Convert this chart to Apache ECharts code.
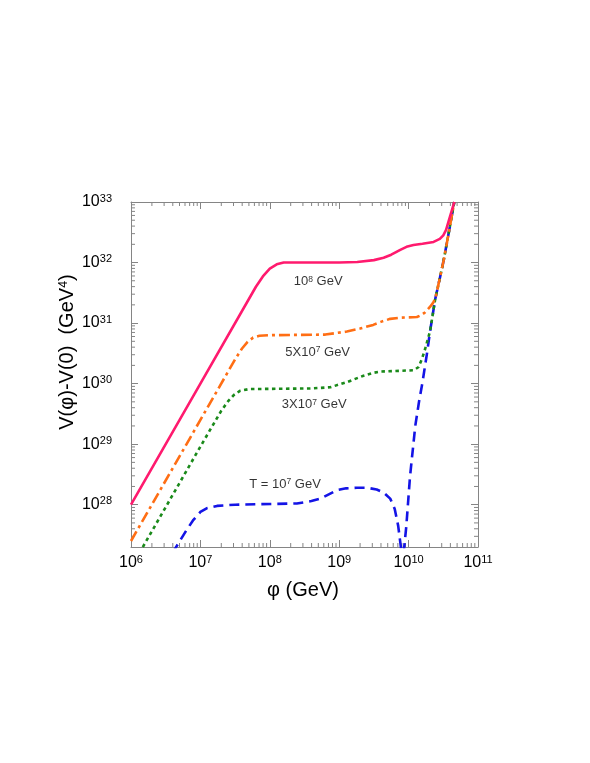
<!DOCTYPE html>
<html><head><meta charset="utf-8">
<script src="https://cdn.jsdelivr.net/npm/echarts@6/dist/echarts.min.js"></script>
<style>html,body{margin:0;padding:0;background:#fff}#c{width:590px;height:763px}</style>
</head><body><div id="c"></div>
<script>
// ---- data: [log10 φ/GeV, log10 (V(φ)-V(0))/GeV^4] ----
const seriesNames = ['T = 10^7 GeV', '3X10^7 GeV', '5X10^7 GeV', '10^8 GeV'];

const blueT1e7Log = [
  [6.6, 27.2], [6.649, 27.3], [6.8, 27.58], [6.9, 27.75], [7.0, 27.88], [7.09, 27.94], [7.24, 27.98],
  [7.5, 28.0], [8.39, 28.02], [8.6, 28.06], [8.73, 28.1], [8.85, 28.17], [8.97, 28.24], [9.1, 28.27],
  [9.255, 28.28], [9.4, 28.28], [9.54, 28.25], [9.64, 28.2], [9.735, 28.1], [9.8, 27.93], [9.85, 27.65],
  [9.9, 27.2], null,
  [9.93, 27.2], [9.937, 27.3], [9.966, 27.63], [10.02, 28.46], [10.096, 29.3], [10.15, 29.7],
  [10.2, 30.02], [10.265, 30.5], [10.31, 30.87], [10.384, 31.4], [10.45, 31.74], [10.504, 32.03],
  [10.58, 32.5], [10.658, 33.0]
];
const greenT3e7Log = [
  [6.12, 27.2], [7.0, 28.96], [7.3, 29.55], [7.4, 29.71], [7.48, 29.81], [7.57, 29.88], [7.7, 29.91],
  [8.6, 29.92], [8.87, 29.94], [9.1, 30.02], [9.35, 30.13], [9.5, 30.18], [9.6, 30.2], [10.07, 30.22],
  [10.14, 30.27], [10.19, 30.4], [10.24, 30.58], [10.31, 30.87], [10.384, 31.4], [10.45, 31.74],
  [10.504, 32.03], [10.58, 32.5], [10.658, 33.0]
];
const orangeT5e7Log = [
  [6.0, 27.4], [7.0, 29.4], [7.5, 30.4], [7.6, 30.58], [7.68, 30.69], [7.76, 30.76], [7.85, 30.79],
  [8.0, 30.8], [8.8, 30.81], [9.11, 30.86], [9.3, 30.91], [9.49, 30.97], [9.6, 31.02], [9.735, 31.07],
  [9.9, 31.09], [10.12, 31.1], [10.18, 31.13], [10.24, 31.18], [10.31, 31.27], [10.35, 31.33],
  [10.384, 31.4], [10.45, 31.74], [10.504, 32.03], [10.58, 32.5], [10.658, 33.0]
];
const pinkT1e8Log = [
  [6.0, 28.0], [7.0, 30.0], [7.8, 31.6], [7.9, 31.77], [8.0, 31.9], [8.1, 31.97], [8.2, 32.0],
  [9.0, 32.0], [9.26, 32.01], [9.5, 32.04], [9.64, 32.08], [9.75, 32.13], [9.88, 32.21], [9.97, 32.26],
  [10.07, 32.29], [10.2, 32.31], [10.36, 32.34], [10.45, 32.39], [10.5, 32.45], [10.54, 32.54],
  [10.576, 32.68], [10.62, 32.85], [10.658, 33.0]
];

// curve annotations: text and anchor (exponents of data coordinates)
const annoTexts = ['10{s|8} GeV', '5X10{s|7} GeV', '3X10{s|7} GeV', 'T = 10{s|7} GeV'];
const annoAnchorsLog = [[8.697, 31.69], [8.69, 30.52], [8.64, 29.66], [8.22, 28.34]];

// axes
const xMin = 1e6, xMax = 1e11;
const yMin = 2e27, yMax = 1e33;
const xTitle = 'φ (GeV)';
const yTitle = 'V(φ)-V(0)  (GeV{s|4})';

// ---- rendering ----
const FONT = '"Liberation Sans", Arial, Helvetica, sans-serif';
const AX = '#858585';
const toValues = arr => arr.map(p => p === null ? null : [Math.pow(10, p[0]), Math.pow(10, p[1])]);

function minorValues(lo, hi) {
  const out = [];
  for (let n = Math.floor(Math.log10(lo)); n <= Math.ceil(Math.log10(hi)); n++) {
    for (let k = 2; k <= 9; k++) {
      const v = k * Math.pow(10, n);
      if (v > lo * 1.0001 && v < hi * 0.9999) out.push(v);
    }
  }
  return out;
}
const xMinor = minorValues(xMin, xMax);
const yMinor = minorValues(yMin, yMax);

function powLabel(v) {
  const e = Math.log10(v), r = Math.round(e);
  if (Math.abs(e - r) > 1e-6) return '';
  return '{b|10}{s|' + r + '}';
}
const labelRich = {
  b: { fontSize: 16, fontFamily: FONT, color: '#000', lineHeight: 18 },
  s: { fontSize: 11, fontFamily: FONT, color: '#000', verticalAlign: 'top', lineHeight: 9 }
};

function baseAxis(pos, showLabel) {
  return {
    type: 'log', logBase: 10, position: pos,
    axisLine: { show: true, onZero: false, lineStyle: { color: AX, width: 1 } },
    axisTick: { show: true, inside: true, length: 7, lineStyle: { color: AX, width: 1 } },
    minorTick: { show: false },
    splitLine: { show: false },
    axisLabel: showLabel ? { show: true, formatter: powLabel, rich: labelRich, showMinLabel: true, showMaxLabel: true } : { show: false }
  };
}

const xBottom = Object.assign(baseAxis('bottom', true), { min: xMin, max: xMax });
xBottom.axisLabel.margin = 7;
const xTop = Object.assign(baseAxis('top', false), { min: xMin, max: xMax });
const yLeft = Object.assign(baseAxis('left', true), { min: yMin, max: yMax });
yLeft.axisLabel.margin = 19;
const yRight = Object.assign(baseAxis('right', false), { min: yMin, max: yMax });

function minorTickX(params, api) {
  const v = api.value(0);
  const b = api.coord([v, yMin]), t = api.coord([v, yMax]);
  const st = { stroke: AX, lineWidth: 1 };
  return { type: 'group', children: [
    { type: 'line', shape: { x1: b[0], y1: b[1], x2: b[0], y2: b[1] - 4 }, style: st },
    { type: 'line', shape: { x1: t[0], y1: t[1], x2: t[0], y2: t[1] + 4 }, style: st }
  ]};
}
function minorTickY(params, api) {
  const v = api.value(1);
  const l = api.coord([xMin, v]), r = api.coord([xMax, v]);
  const st = { stroke: AX, lineWidth: 1 };
  return { type: 'group', children: [
    { type: 'line', shape: { x1: l[0], y1: l[1], x2: l[0] + 4, y2: l[1] }, style: st },
    { type: 'line', shape: { x1: r[0], y1: r[1], x2: r[0] - 4, y2: r[1] }, style: st }
  ]};
}

function curve(name, data, color, type, z) {
  return {
    name, type: 'line', data: toValues(data), showSymbol: false, symbol: 'none',
    smooth: false, connectNulls: false, clip: true, z,
    lineStyle: { color, width: 2.6, type, cap: 'butt', join: 'round' }
  };
}

const option = {
  animation: false,
  backgroundColor: '#fff',
  grid: { left: 131, top: 202, right: 112, bottom: 216, containLabel: false },
  xAxis: [xBottom, xTop],
  yAxis: [yLeft, yRight],
  series: [
    { type: 'custom', renderItem: minorTickX, data: xMinor.map(v => [v, yMax]), silent: true, clip: false, z: 1 },
    { type: 'custom', renderItem: minorTickY, data: yMinor.map(v => [xMin, v]), silent: true, clip: false, z: 1 },
    curve(seriesNames[0], blueT1e7Log, '#1414e6', [10, 6], 3),
    curve(seriesNames[1], greenT3e7Log, '#1a8a1a', [3.5, 3.5], 4),
    curve(seriesNames[2], orangeT5e7Log, '#ff6e14', [11, 4, 3, 4], 5),
    curve(seriesNames[3], pinkT1e8Log, '#ff1a6e', 'solid', 6),
    {
      type: 'scatter', symbolSize: 0, silent: true, z: 10,
      data: toValues(annoAnchorsLog).map((p, i) => ({ value: p, label: { formatter: annoTexts[i] } })),
      label: {
        show: true, position: 'inside', color: '#000', fontSize: 13, fontFamily: FONT,
        rich: { s: { fontSize: 8.5, fontFamily: FONT, color: '#000', verticalAlign: 'top', lineHeight: 8 } }
      }
    }
  ],
  graphic: [
    { type: 'text', x: 303, y: 590, style: { text: xTitle, font: '20px ' + FONT, fill: '#000', align: 'center', verticalAlign: 'middle' } },
    { type: 'text', x: 67, y: 352, rotation: Math.PI / 2,
      style: { text: yTitle, font: '20px ' + FONT, fill: '#000', align: 'center', verticalAlign: 'middle',
        rich: { s: { fontSize: 12.5, fontFamily: FONT, fill: '#000', verticalAlign: 'top', lineHeight: 10 } } } }
  ]
};

const chart = echarts.init(document.getElementById('c'), null, { renderer: 'canvas' });
chart.setOption(option);
</script>
</body></html>
